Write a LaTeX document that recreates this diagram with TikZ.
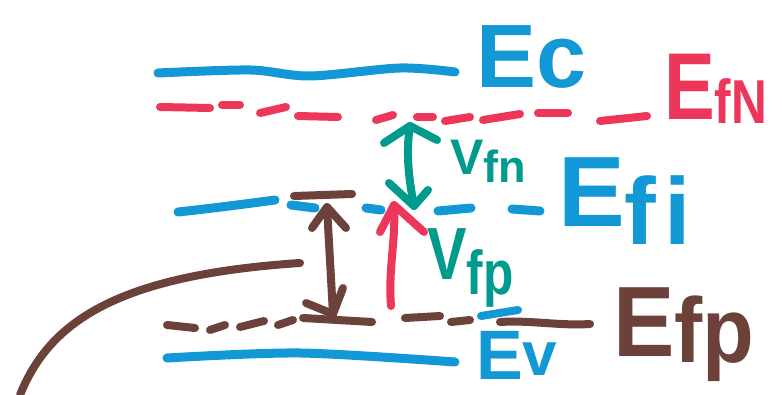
\documentclass[tikz,border=0pt]{standalone}
\usepackage{fontspec}
\setmainfont{Liberation Sans}[Ligatures=CommonOff]
\definecolor{cblue}{RGB}{18,152,212}
\definecolor{cred}{RGB}{236,54,90}
\definecolor{cteal}{RGB}{0,155,140}
\definecolor{cbrown}{RGB}{107,65,58}
\newcommand\fs[1]{\fontsize{#1}{#1}\selectfont}
\begin{document}
\begin{tikzpicture}[x=1pt,y=-1pt,line cap=round,line join=round,
  pen/.style={line width=9pt},
  dashpen/.style={line width=8pt},
  arrowpen/.style={line width=8pt},
  lbl/.style={inner sep=0pt,anchor=base west,font=\bfseries}]
\useasboundingbox (0,0) rectangle (782,395);

% ---- Ec level
\draw[pen,cblue] plot[smooth] coordinates {(158,73) (250,70) (310,76) (400,68) (455,72)};
\node[lbl,text=cblue] (ec) at (476,88) {\fs{90}Ec};

% ---- EfN dashed level
\begin{scope}[dashpen,cred]
\draw (160,107) -- (210,108);
\draw (222,105) -- (240,105);
\draw (260,113) -- (286,107);
\draw (298,116) -- (338,117);
\draw (376,120) -- (393,115);
\draw (417,117) -- (433,117);
\draw (445,121) -- (470,117);
\draw (483,120) -- (520,114);
\draw (538,113) -- (568,113);
\draw (600,121) -- (647,116);
\end{scope}
\node[lbl,text=cred] (efn) at (664,120) {\scalebox{0.8}[1]{\fs{95}E\fs{62}\raisebox{-4pt}{fN}}};

% ---- Efi level
\begin{scope}[pen,cblue]
\draw (178,212) .. controls (215,208) and (245,204) .. (275,200);
\draw (291,205) -- (315,208);
\draw (366,208) -- (381,210);
\draw (438,211) -- (471,208);
\draw (512,209) -- (540,211);
\end{scope}
\node[lbl,text=cblue] (efi) at (558,227) {\fs{100}E\fs{95}\raisebox{-18pt}{f\kern8pt i}};

% ---- Efp dashed level
\begin{scope}[dashpen,cbrown]
\draw (167,325) -- (195,328);
\draw (210,330) -- (225,325);
\draw (240,327) -- (264,321);
\draw (278,325) -- (293,320);
\draw (303,318) -- (372,322);
\draw (405,318) -- (440,316);
\draw (451,322) -- (470,320);
\draw (500,322) .. controls (530,320) and (560,326) .. (590,324);
\end{scope}
\draw[dashpen,cblue] (481,316) -- (518,310);
\node[lbl,text=cbrown] (efp) at (613,356) {\scalebox{0.92}[1]{\fs{100}E\fs{92}\raisebox{-6pt}{fp}}};

% ---- Ev level
\draw[pen,cblue] plot[smooth] coordinates {(167,358) (300,353) (455,362)};
\node[lbl,text=cblue] (ev) at (476,380) {\fs{70}E\fs{62}\raisebox{4pt}{v}};

% ---- brown curve
\coordinate (cS) at (20,395);
\coordinate (cE) at (300,263);
\draw[line width=8pt,cbrown] (cS) .. controls (50,320) and (120,275) .. (cE);

% ---- brown double arrow with bar
\coordinate (bT) at (327,207);
\coordinate (bB) at (333,314);
\coordinate (barL) at (294,196);
\coordinate (barR) at (352,194);
\begin{scope}[arrowpen,cbrown]
\draw (barL) -- (barR);
\draw (312,228) -- (bT) -- (346,228);
\draw (bT) -- (bB);
\draw (306,303) -- (bB) -- (343,288);
\end{scope}

% ---- teal double arrow
\coordinate (gT) at (410,126);
\coordinate (gB) at (414,206);
\begin{scope}[arrowpen,cteal]
\draw (384,143) -- (gT) -- (437,140);
\draw (gT) .. controls (406,150) and (408,175) .. (gB);
\draw (389,183) -- (gB) -- (428,190);
\end{scope}

% ---- red arrow
\coordinate (rT) at (394,205);
\coordinate (rB) at (391,306);
\begin{scope}[arrowpen,cred]
\draw (380,232) -- (rT) -- (424,232);
\draw (rB) .. controls (388,270) and (396,240) .. (rT);
\end{scope}

% ---- V labels
\node[lbl,text=cteal] (vfn) at (450,175) {\fs{50}V\fs{45}\raisebox{-8pt}{fn}};
\node[lbl,text=cteal] (vfp) at (427,280) {\scalebox{0.8}[1]{\fs{74}V\fs{62}\raisebox{-15pt}{fp}}};
\end{tikzpicture}
\end{document}
